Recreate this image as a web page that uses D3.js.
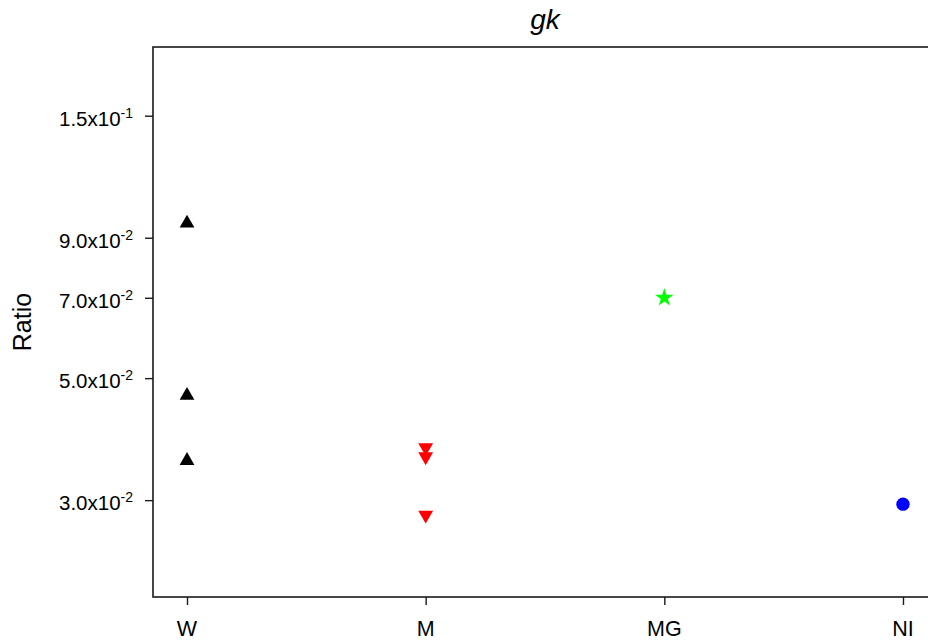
<!DOCTYPE html>
<html>
<head>
<meta charset="utf-8">
<script src="https://cdn.jsdelivr.net/npm/d3@7"></script>
<style>
  html, body { margin: 0; padding: 0; background: #fff; overflow: hidden; }
  svg { display: block; font-family: "Liberation Sans", Arial, sans-serif; }
</style>
</head>
<body>
<div id="chart"></div>
<script>
'use strict';

// ── Data ──────────────────────────────────────────────────────────────────
const groups   = ['W', 'M', 'MG', 'NI'];
const wValues  = [0.0956, 0.0465, 0.0354];
const mValues  = [0.0374, 0.0360, 0.0282];
const mgValues = [0.0700];
const niValues = [0.0295];

const yTicks = [0.03, 0.05, 0.07, 0.09, 0.15];
const yTickLabels = [
  ['3.0x10', '-2'],
  ['5.0x10', '-2'],
  ['7.0x10', '-2'],
  ['9.0x10', '-2'],
  ['1.5x10', '-1'],
];

const series = [
  { group: 'W',  values: wValues,  shape: d3.symbolTriangle, size: 95,  rotate: 0,   color: '#000000' },
  { group: 'M',  values: mValues,  shape: d3.symbolTriangle, size: 95,  rotate: 180, color: '#ff0000' },
  { group: 'MG', values: mgValues, shape: d3.symbolStar,     size: 105, rotate: 0,   color: '#00ff00' },
  { group: 'NI', values: niValues, shape: d3.symbolCircle,   size: 140, rotate: 0,   color: '#0000ff' },
];

// ── Layout ────────────────────────────────────────────────────────────────
const W = 928, H = 641;
const plot = { left: 153, right: 937, top: 47, bottom: 597 };

const svg = d3.select('#chart').append('svg')
  .attr('width', W).attr('height', H);

const x = d3.scalePoint()
  .domain(groups)
  .range([plot.left, plot.right])
  .padding(0.1425);

const y = d3.scaleLog()
  .domain([0.02, 0.2])
  .range([plot.bottom, plot.top]);

// frame (right edge runs off the canvas)
svg.append('rect')
  .attr('x', plot.left).attr('y', plot.top)
  .attr('width', plot.right - plot.left)
  .attr('height', plot.bottom - plot.top)
  .attr('fill', 'none')
  .attr('stroke', '#1a1a1a')
  .attr('stroke-width', 1.6);

// ── Y axis ────────────────────────────────────────────────────────────────
const yAxis = svg.append('g')
  .attr('transform', `translate(${plot.left},0)`)
  .call(d3.axisLeft(y).tickValues(yTicks).tickSize(8).tickFormat(''));
yAxis.select('.domain').remove();
yAxis.selectAll('line').attr('stroke', '#1a1a1a').attr('stroke-width', 1.4);

const yLab = svg.append('g').selectAll('text')
  .data(yTicks)
  .join('text')
  .attr('x', 133)
  .attr('y', d => y(d) + 10)
  .attr('text-anchor', 'end')
  .attr('font-size', '20.5px')
  .attr('fill', '#000');
yLab.append('tspan').text((d, i) => yTickLabels[i][0]);
yLab.append('tspan')
  .attr('font-size', '14px')
  .attr('dy', -8)
  .text((d, i) => yTickLabels[i][1]);

// ── X axis ────────────────────────────────────────────────────────────────
const xAxis = svg.append('g')
  .attr('transform', `translate(0,${plot.bottom})`)
  .call(d3.axisBottom(x).tickSize(8).tickFormat(''));
xAxis.select('.domain').remove();
xAxis.selectAll('line').attr('stroke', '#1a1a1a').attr('stroke-width', 1.4);

svg.append('g').selectAll('text')
  .data(groups)
  .join('text')
  .attr('x', d => x(d))
  .attr('y', 636)
  .attr('text-anchor', 'middle')
  .attr('font-size', '21.5px')
  .attr('fill', '#000')
  .text(d => d);

// ── Labels ────────────────────────────────────────────────────────────────
svg.append('text')
  .attr('transform', `translate(31,${(plot.top + plot.bottom) / 2}) rotate(-90)`)
  .attr('text-anchor', 'middle')
  .attr('font-size', '25px')
  .text('Ratio');

svg.append('text')
  .attr('x', (plot.left + plot.right) / 2)
  .attr('y', 29)
  .attr('text-anchor', 'middle')
  .attr('font-size', '28px')
  .attr('font-style', 'italic')
  .text('gk');

// ── Points ────────────────────────────────────────────────────────────────
series.forEach(s => {
  const sym = d3.symbol().type(s.shape).size(s.size);
  svg.append('g').selectAll('path')
    .data(s.values)
    .join('path')
    .attr('d', sym)
    .attr('transform', d => `translate(${x(s.group)},${y(d)}) rotate(${s.rotate})`)
    .attr('fill', s.color);
});
</script>
</body>
</html>
